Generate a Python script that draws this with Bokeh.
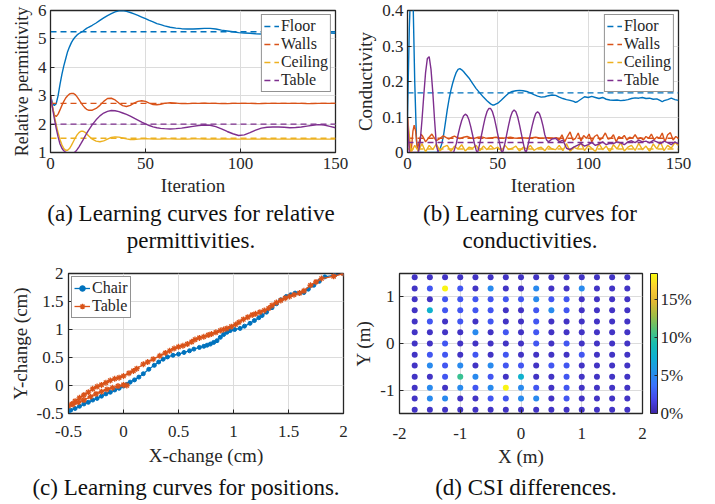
import numpy as np
from bokeh.plotting import figure
from bokeh.layouts import column, row
from bokeh.models import (Div, FixedTicker, CustomJSTickFormatter, Legend, LegendItem,
                          LinearColorMapper, ColorBar, ColumnDataSource, Range1d, LinearAxis)
from bokeh.embed import file_html
from bokeh.resources import INLINE

# ---------------- data ----------------
iter_a = list(range(0, 21)) + list(range(22, 61, 2)) + list(range(63, 151, 3))
eps_floor = [3.0, 2.75, 2.65, 2.72, 3.0, 3.4, 3.75, 4.05, 4.3, 4.55, 4.72, 4.87, 4.98, 5.07, 5.14, 5.19, 5.23, 5.27, 5.32, 5.37, 5.41,
             5.48, 5.56, 5.65, 5.74, 5.82, 5.89, 5.95, 5.99, 6.0, 5.97, 5.93, 5.88, 5.83, 5.77, 5.71, 5.65, 5.6, 5.54, 5.5, 5.46,
             5.41, 5.38, 5.36, 5.35, 5.35, 5.36, 5.37, 5.37, 5.35, 5.31, 5.28, 5.25, 5.22, 5.21, 5.2, 5.18, 5.17, 5.16, 5.17, 5.19,
             5.2, 5.21, 5.22, 5.22, 5.22, 5.22, 5.21, 5.21, 5.21, 5.2]
eps_walls = [3.0, 2.6, 2.32, 2.27, 2.35, 2.5, 2.66, 2.8, 2.92, 3.0, 3.06, 3.08, 3.08, 3.04, 2.96, 2.86, 2.76, 2.66, 2.58, 2.52, 2.49,
             2.49, 2.55, 2.66, 2.8, 2.9, 2.91, 2.85, 2.74, 2.65, 2.62, 2.66, 2.74, 2.8, 2.82, 2.8, 2.74, 2.69, 2.68, 2.7, 2.73,
             2.75, 2.74, 2.72, 2.72, 2.73, 2.73, 2.74, 2.73, 2.73, 2.72, 2.72, 2.73, 2.73, 2.73, 2.73, 2.72, 2.72, 2.73, 2.73, 2.73,
             2.73, 2.73, 2.73, 2.73, 2.72, 2.72, 2.73, 2.73, 2.73, 2.73]
eps_ceiling = [3.0, 2.65, 2.3, 1.98, 1.7, 1.46, 1.27, 1.14, 1.08, 1.08, 1.14, 1.25, 1.38, 1.51, 1.62, 1.7, 1.75, 1.75, 1.72, 1.66, 1.59,
               1.47, 1.4, 1.38, 1.41, 1.47, 1.53, 1.55, 1.54, 1.51, 1.48, 1.46, 1.46, 1.47, 1.48, 1.49, 1.48, 1.47, 1.47, 1.47, 1.48,
               1.48, 1.47, 1.47, 1.47, 1.48, 1.48, 1.47, 1.47, 1.47, 1.47, 1.48, 1.47, 1.47, 1.47, 1.47, 1.47, 1.47, 1.48, 1.47, 1.47,
               1.47, 1.47, 1.47, 1.47, 1.48, 1.47, 1.47, 1.47, 1.47, 1.47]
eps_table = [3.0, 2.6, 2.2, 1.85, 1.55, 1.3, 1.15, 1.06, 1.01, 0.98, 0.97, 0.97, 0.98, 1.02, 1.1, 1.2, 1.31, 1.43, 1.55, 1.67, 1.78,
             1.98, 2.15, 2.29, 2.39, 2.45, 2.48, 2.47, 2.44, 2.39, 2.34, 2.28, 2.21, 2.14, 2.07, 2.01, 1.95, 1.9, 1.87, 1.85, 1.84,
             1.83, 1.84, 1.86, 1.89, 1.92, 1.95, 1.97, 1.96, 1.91, 1.83, 1.74, 1.66, 1.6, 1.62, 1.7, 1.79, 1.86, 1.89, 1.9, 1.9,
             1.89, 1.87, 1.88, 1.9, 1.93, 1.96, 1.98, 1.97, 1.92, 1.87]
eps_true = [5.25, 2.73, 1.5, 2.0]

sig_floor = [(0, 0.10), (1, 0.35), (2, 0.5), (3, 0.45), (4, 0.2), (5, 0.03), (6, 0.0), (10, 0.0), (16, 0.0), (17, 0.003),
             (18, 0.01), (19, 0.025), (20, 0.05), (21, 0.085), (22, 0.12), (23, 0.15), (24, 0.175), (25, 0.195), (26, 0.212),
             (27, 0.226), (28, 0.234), (29, 0.236), (30, 0.233), (31, 0.228), (32, 0.222), (34, 0.21), (36, 0.195), (38, 0.18),
             (40, 0.168), (42, 0.156), (44, 0.146), (46, 0.137), (47, 0.134), (48, 0.134), (50, 0.139), (52, 0.148), (54, 0.158),
             (56, 0.167), (58, 0.172), (60, 0.174), (62, 0.175), (64, 0.174), (66, 0.172), (68, 0.168), (70, 0.163), (72, 0.159),
             (74, 0.156), (76, 0.157), (78, 0.16), (80, 0.162), (82, 0.161), (84, 0.156), (86, 0.152), (88, 0.149), (90, 0.147),
             (92, 0.144), (93, 0.141), (94, 0.143), (96, 0.15), (98, 0.157), (100, 0.155), (102, 0.158), (104, 0.155), (106, 0.152),
             (108, 0.155), (110, 0.15), (112, 0.148), (114, 0.147), (116, 0.148), (118, 0.146), (120, 0.147), (122, 0.149),
             (124, 0.152), (126, 0.154), (128, 0.153), (130, 0.155), (132, 0.152), (134, 0.153), (136, 0.15), (138, 0.151),
             (140, 0.146), (141, 0.143), (142, 0.146), (144, 0.149), (146, 0.153), (148, 0.149), (150, 0.147)]
sig_walls_early = [(0, 0.1), (1, 0.02), (2, 0.0), (3, 0.06), (3.7, 0.077), (4.5, 0.06), (5.5, 0.01), (6.5, 0.03), (7.5, 0.052),
                   (8.5, 0.045), (10, 0.03), (11.5, 0.04), (13.5, 0.052), (15, 0.04), (16, 0.033), (18, 0.04), (19.8, 0.047),
                   (21.5, 0.042), (23, 0.038), (24.5, 0.043), (26, 0.046), (27.5, 0.042), (29, 0.039), (31, 0.043), (33, 0.045),
                   (35, 0.041), (37, 0.04), (39, 0.043), (41, 0.044), (43, 0.041), (45, 0.04), (47, 0.042), (49, 0.043),
                   (51, 0.041), (53, 0.04), (55, 0.042), (57, 0.043), (59, 0.041), (61, 0.04), (63, 0.042), (65, 0.041),
                   (67, 0.04), (69, 0.042), (71, 0.043), (73, 0.041), (75, 0.04), (77, 0.042), (79, 0.041), (81, 0.04), (82.5, 0.042)]
sig_walls_late = [0.035, 0.05, 0.03, 0.045, 0.058, 0.035, 0.04, 0.055, 0.032, 0.048, 0.04, 0.052, 0.03, 0.045, 0.05,
                  0.035, 0.042, 0.055, 0.038, 0.04, 0.05, 0.03, 0.045, 0.04, 0.048, 0.035, 0.043, 0.04, 0.05, 0.038,
                  0.042, 0.035, 0.045, 0.04, 0.052, 0.036, 0.044, 0.04, 0.055, 0.03, 0.05, 0.056, 0.035, 0.045, 0.04]
sig_ceiling = [0.1, 0.0, 0.02, 0.004, 0.025, 0.002, 0.02, 0.008, 0.024, 0.004, 0.016, 0.02, 0.003, 0.018, 0.01, 0.022,
               0.004, 0.015, 0.012, 0.02, 0.005, 0.018, 0.008, 0.02, 0.01, 0.015, 0.005, 0.02, 0.008, 0.012, 0.018, 0.004,
               0.015, 0.01, 0.02, 0.006, 0.012, 0.015, 0.005, 0.018, 0.01, 0.008, 0.02, 0.005, 0.025, 0.003, 0.015, 0.01,
               0.028, 0.005, 0.02, 0.012, 0.003, 0.025, 0.008, 0.018, 0.002, 0.022, 0.01, 0.028, 0.004, 0.015, 0.02, 0.006,
               0.026, 0.008, 0.018, 0.003, 0.024, 0.01, 0.03, 0.005, 0.02, 0.012, 0.028, 0.02]
sig_table_early = [(0, 0.1), (1, 0.0), (6, 0.0), (7, 0.03), (8, 0.09), (9, 0.16), (10, 0.225), (11, 0.265), (12, 0.27),
                   (13, 0.235), (14, 0.17), (15, 0.09), (16, 0.02), (17, 0.0), (25.5, 0.0), (26, 0.008), (27, 0.025),
                   (28, 0.05), (29, 0.072), (30, 0.09), (31, 0.103), (32, 0.108), (33, 0.104), (34, 0.092), (35, 0.073),
                   (36, 0.05), (37, 0.026), (38, 0.007), (38.5, 0.0), (39, 0.004), (40, 0.025), (41, 0.05), (42, 0.075),
                   (43, 0.098), (44, 0.115), (45, 0.124), (46, 0.124), (47, 0.115), (48, 0.098), (49, 0.075), (50, 0.05),
                   (51, 0.025), (52, 0.004), (52.5, 0.0), (53, 0.006), (54, 0.028), (55, 0.053), (56, 0.078), (57, 0.1),
                   (58, 0.114), (59, 0.12), (60, 0.115), (61, 0.1), (62, 0.078), (63, 0.053), (64, 0.028), (65, 0.006),
                   (65.5, 0.0), (66, 0.006), (67, 0.028), (68, 0.052), (69, 0.075), (70, 0.095), (71, 0.11), (72, 0.115),
                   (73, 0.11), (74, 0.095), (75, 0.075), (76, 0.05), (77, 0.035), (78, 0.03)]
sig_table_late = [0.038, 0.04, 0.03, 0.035, 0.012, 0.008, 0.015, 0.02, 0.025, 0.018, 0.022, 0.028, 0.02, 0.024, 0.03, 0.022,
                  0.026, 0.025, 0.03, 0.027, 0.022, 0.03, 0.033, 0.028, 0.035, 0.03, 0.032, 0.027, 0.034, 0.03, 0.025, 0.032,
                  0.028, 0.022, 0.03, 0.024]
sig_true = [0.168, 0.04, 0.01, 0.028]

chair_x = [2.0, 1.92, 1.83, 1.78, 1.73, 1.68, 1.64, 1.6, 1.56, 1.52, 1.48, 1.43, 1.39, 1.35, 1.30, 1.26, 1.23, 1.19, 1.15, 1.1,
           1.06, 1.01, 0.97, 0.94, 0.91, 0.88, 0.85, 0.82, 0.79, 0.76, 0.73, 0.69, 0.64, 0.6, 0.55, 0.5, 0.45, 0.4, 0.36, 0.32,
           0.28, 0.23, 0.18, 0.14, 0.1, 0.06, 0.03, 0.0, -0.04, -0.08, -0.12, -0.16, -0.2, -0.24, -0.28, -0.32, -0.36, -0.4,
           -0.44, -0.48, -0.5]
chair_y = [2.0, 1.97, 1.94, 1.86, 1.79, 1.72, 1.66, 1.65, 1.65, 1.62, 1.59, 1.53, 1.46, 1.39, 1.31, 1.25, 1.21, 1.16, 1.11, 1.06,
           1.02, 1.0, 0.98, 0.95, 0.91, 0.86, 0.80, 0.77, 0.74, 0.72, 0.70, 0.68, 0.65, 0.62, 0.59, 0.56, 0.54, 0.51, 0.47, 0.42,
           0.36, 0.29, 0.21, 0.15, 0.1, 0.06, 0.02, -0.01, -0.05, -0.08, -0.12, -0.15, -0.19, -0.23, -0.26, -0.3, -0.33, -0.37,
           -0.41, -0.44, -0.46]
table_x = [2.0, 1.91, 1.8, 1.75, 1.70, 1.64, 1.6, 1.55, 1.51, 1.47, 1.43, 1.39, 1.35, 1.32, 1.28, 1.24, 1.2, 1.17, 1.13, 1.09,
           1.05, 1.02, 0.98, 0.94, 0.91, 0.88, 0.84, 0.80, 0.77, 0.73, 0.69, 0.65, 0.62, 0.58, 0.54, 0.5, 0.46, 0.42, 0.38, 0.33,
           0.27, 0.22, 0.18, 0.12, 0.09, 0.05, 0.0, -0.04, -0.08, -0.12, -0.16, -0.2, -0.24, -0.28, -0.32, -0.36, -0.4, -0.44,
           -0.47, -0.5, -0.46, -0.41, -0.36, -0.3, -0.25, -0.2, -0.15, -0.1, -0.05, 0.0, 0.03]
table_y = [2.0, 1.95, 1.91, 1.85, 1.79, 1.69, 1.65, 1.62, 1.59, 1.56, 1.52, 1.48, 1.43, 1.38, 1.34, 1.31, 1.28, 1.26, 1.22, 1.18,
           1.13, 1.09, 1.05, 1.02, 1.0, 0.98, 0.95, 0.92, 0.9, 0.87, 0.85, 0.82, 0.78, 0.74, 0.71, 0.69, 0.66, 0.62, 0.58, 0.53,
           0.47, 0.42, 0.38, 0.3, 0.26, 0.22, 0.17, 0.14, 0.12, 0.09, 0.05, 0.01, -0.02, -0.06, -0.12, -0.17, -0.22, -0.28,
           -0.33, -0.37, -0.34, -0.3, -0.26, -0.2, -0.15, -0.11, -0.07, -0.04, -0.01, 0.01, 0.0]

grid_x = [-1.75, -1.5, -1.25, -1.0, -0.75, -0.5, -0.25, 0.0, 0.25, 0.5, 0.75, 1.0, 1.25, 1.5, 1.75]
grid_y = [1.42, 1.18, 0.95, 0.71, 0.47, 0.24, 0.0, -0.24, -0.47, -0.71, -0.95, -1.18, -1.42]
csi_diff = [
    [0.8, 0.8, 0.8, 0.8, 0.8, 0.8, 0.8, 0.8, 0.8, 0.8, 0.8, 0.8, 0.8, 0.8, 0.8],
    [0.8, 2.6, 18.2, 2.6, 0.8, 5.0, 0.8, 0.8, 5.0, 0.8, 0.8, 5.0, 0.8, 0.8, 0.8],
    [0.8, 0.8, 2.6, 2.6, 2.6, 2.6, 2.6, 2.6, 5.0, 2.6, 2.6, 0.8, 0.8, 0.8, 0.8],
    [0.8, 7.6, 2.6, 2.6, 2.6, 2.6, 0.8, 0.8, 2.6, 5.0, 2.6, 0.8, 0.8, 0.8, 0.8],
    [0.8, 2.6, 0.8, 2.6, 0.8, 2.6, 0.8, 0.8, 2.6, 0.8, 0.8, 0.8, 0.8, 0.8, 0.8],
    [0.8, 0.8, 0.8, 0.8, 5.0, 0.8, 2.6, 0.8, 2.6, 0.8, 0.8, 0.8, 0.8, 0.8, 0.8],
    [0.8, 0.8, 2.6, 0.8, 0.8, 0.8, 0.8, 0.8, 2.6, 0.8, 2.6, 0.8, 0.8, 0.8, 0.8],
    [0.8, 2.6, 2.6, 0.8, 2.6, 0.8, 2.6, 0.8, 0.8, 0.8, 0.8, 2.6, 0.8, 0.8, 0.8],
    [0.8, 5.0, 2.6, 5.0, 0.8, 5.0, 2.6, 2.6, 0.8, 2.6, 2.6, 0.8, 0.8, 0.8, 0.8],
    [0.8, 0.8, 2.6, 10.2, 5.0, 2.6, 0.8, 7.6, 0.8, 0.8, 2.6, 0.8, 0.8, 0.8, 0.8],
    [0.8, 5.0, 0.8, 5.0, 2.6, 5.0, 18.2, 5.0, 2.6, 0.8, 2.6, 0.8, 0.8, 0.8, 0.8],
    [0.8, 5.0, 5.0, 0.8, 0.8, 2.6, 2.6, 5.0, 5.0, 0.8, 2.6, 0.8, 0.8, 0.8, 0.8],
    [0.8, 0.8, 0.8, 0.8, 0.8, 0.8, 0.8, 0.8, 0.8, 0.8, 0.8, 0.8, 0.8, 0.8, 0.8],
]
csi_max = 18.5
names = ["Floor", "Walls", "Ceiling", "Table"]

# ---------------- style ----------------
FONT = "Liberation Serif"
INK = "#262626"
COLORS = ["#0072BD", "#D95319", "#EDB120", "#7E2F8E"]
LW = 1.4

stops = [(0.0, (62, 38, 168)), (0.1, (71, 70, 235)), (0.2, (58, 114, 252)), (0.3, (34, 148, 232)),
         (0.4, (14, 175, 210)), (0.5, (25, 190, 175)), (0.6, (85, 195, 120)), (0.7, (160, 190, 70)),
         (0.8, (225, 185, 50)), (0.9, (250, 205, 50)), (1.0, (249, 251, 14))]
sp = np.array([s[0] for s in stops])
sc = np.array([s[1] for s in stops], dtype=float)
tt = np.linspace(0, 1, 256)
PARULA = ["#%02x%02x%02x" % tuple(int(round(np.interp(t, sp, sc[:, k]))) for k in range(3)) for t in tt]


def fmt():
    return CustomJSTickFormatter(code="return String(Math.round(tick*1000)/1000);")


def style(p, xt, yt, xlabel, ylabel, xstand=5, xlstand=3, ystand=4, lab_size="19px"):
    p.xaxis.ticker = FixedTicker(ticks=xt)
    p.yaxis.ticker = FixedTicker(ticks=yt)
    p.xaxis.formatter = fmt()
    p.yaxis.formatter = fmt()
    p.xaxis.axis_label = xlabel
    p.yaxis.axis_label = ylabel
    for ax in p.axis:
        ax.major_label_text_font = FONT
        ax.major_label_text_font_size = "17px"
        ax.major_label_text_color = INK
        ax.axis_label_text_font = FONT
        ax.axis_label_text_font_size = lab_size
        ax.axis_label_text_font_style = "normal"
        ax.axis_label_text_color = INK
        ax.major_tick_in = 4
        ax.major_tick_out = 0
        ax.minor_tick_line_color = None
        ax.axis_line_color = INK
        ax.major_tick_line_color = INK
    p.xaxis.major_label_standoff = xstand
    p.xaxis.axis_label_standoff = xlstand
    p.yaxis.major_label_standoff = ystand
    p.yaxis.axis_label_standoff = 3
    p.grid.grid_line_color = "#dcdcdc"
    p.grid.grid_line_width = 1
    p.outline_line_color = INK
    p.outline_line_width = 1.3
    p.outline_line_alpha = 1
    p.background_fill_color = "white"
    p.border_fill_color = "white"


def legend_style(leg):
    leg.label_text_font = FONT
    leg.label_text_font_size = "16px"
    leg.label_text_color = INK
    leg.glyph_width = 15
    leg.glyph_height = 14
    leg.label_height = 14
    leg.label_standoff = 2
    leg.spacing = 0
    leg.padding = 2
    leg.margin = 4
    leg.border_line_color = INK
    leg.border_line_width = 1
    leg.background_fill_alpha = 1


def mk(w, h, xr, yr, l, r, t, b):
    return figure(width=w, height=h, x_range=Range1d(*xr), y_range=Range1d(*yr),
                  output_backend="svg", toolbar_location=None,
                  min_border_left=l, min_border_right=r, min_border_top=t, min_border_bottom=b)


# ---------------- (a) ----------------
fa = mk(352, 200, (0, 150), (1, 6), 50, 17, 10, 48)
style(fa, [0, 50, 100, 150], [1, 2, 3, 4, 5, 6], "Iteration", "Relative permittivity",
      xstand=5, xlstand=3, ystand=4, lab_size="18px")
fa.xaxis.axis_label_text_font_size = "19px"
items = []
for name, ys, c, tv in zip(names, [eps_floor, eps_walls, eps_ceiling, eps_table], COLORS, eps_true):
    fa.line(iter_a, ys, line_color=c, line_width=LW)
    r = fa.line([0, 150], [tv, tv], line_color=c, line_width=LW, line_dash="6 4")
    items.append(LegendItem(label=name, renderers=[r]))
leg_a = Legend(items=items, location="top_right")
legend_style(leg_a)
fa.add_layout(leg_a)

# ---------------- (b) ----------------
fb = mk(363, 200, (0, 150), (0, 0.4), 54, 37, 10, 48)
style(fb, [0, 50, 100, 150], [0, 0.1, 0.2, 0.3, 0.4], "Iteration", "Conductivity",
      xstand=5, xlstand=3, ystand=4)
fx, fy = zip(*sig_floor)
we_x, we_y = zip(*sig_walls_early)
w_x = list(we_x) + list(84 + 1.5 * np.arange(len(sig_walls_late)))
w_y = list(we_y) + sig_walls_late
c_x = list(2 * np.arange(len(sig_ceiling)))
te_x, te_y = zip(*sig_table_early)
t_x = list(te_x) + list(80 + 2 * np.arange(len(sig_table_late)))
t_y = list(te_y) + sig_table_late
items = []
for name, xs, ys, c, tv in zip(names, [fx, w_x, c_x, t_x], [fy, w_y, sig_ceiling, t_y], COLORS, sig_true):
    fb.line(list(xs), list(ys), line_color=c, line_width=LW)
    r = fb.line([0, 150], [tv, tv], line_color=c, line_width=LW, line_dash="6 4")
    items.append(LegendItem(label=name, renderers=[r]))
leg_b = Legend(items=items, location="top_right")
legend_style(leg_b)
fb.add_layout(leg_b)

# ---------------- (c) ----------------
fc = mk(350, 217, (-0.5, 2), (-0.5, 2), 68, 7, 18, 59)
ticks_c = [-0.5, 0, 0.5, 1, 1.5, 2]
style(fc, ticks_c, ticks_c, "X-change (cm)", "Y-change (cm)", xstand=12, xlstand=5, ystand=5)
l1 = fc.line(chair_x, chair_y, line_color=COLORS[0], line_width=1.3)
s1 = fc.scatter(chair_x, chair_y, marker="circle", size=4, color=COLORS[0])
l2 = fc.line(table_x, table_y, line_color=COLORS[1], line_width=1.3)
s2 = fc.scatter(table_x, table_y, marker="asterisk", size=6, line_color=COLORS[1], line_width=1.3)
leg_c = Legend(items=[LegendItem(label="Chair", renderers=[l1, s1]),
                      LegendItem(label="Table", renderers=[l2, s2])], location="top_left")
legend_style(leg_c)
leg_c.glyph_width = 16
leg_c.margin = 3
fc.add_layout(leg_c)

# ---------------- (d) ----------------
fd = mk(365, 217, (-2, 2), (-1.5, 1.5), 48, 73, 15, 54)
style(fd, [-2, -1, 0, 1, 2], [-1, 0, 1], "X (m)", "Y (m)", xstand=14, xlstand=4, ystand=5)
px, py, pv = [], [], []
for yi, rowv in zip(grid_y, csi_diff):
    for xi, v in zip(grid_x, rowv):
        px.append(xi)
        py.append(yi)
        pv.append(v)
mapper = LinearColorMapper(palette=PARULA, low=0, high=csi_max)
src = ColumnDataSource(dict(x=px, y=py, v=pv))
fd.scatter("x", "y", source=src, size=6, line_color=None,
           fill_color={"field": "v", "transform": mapper})
# an empty right-hand axis only to leave a gap between the frame and the colour bar
gap_axis = LinearAxis(ticker=FixedTicker(ticks=[0]), major_tick_out=8, major_tick_in=0,
                      major_tick_line_color=None, major_label_text_font_size="1px",
                      major_label_text_color=None, major_label_standoff=0,
                      axis_line_color=None, minor_tick_line_color=None)
fd.add_layout(gap_axis, "right")
cb = ColorBar(color_mapper=mapper, ticker=FixedTicker(ticks=[0, 5, 10, 15]),
              formatter=CustomJSTickFormatter(code="return tick + '%';"),
              width=7, padding=0, margin=0, label_standoff=3,
              background_fill_alpha=0, border_line_color=None,
              major_label_text_font=FONT, major_label_text_font_size="17px",
              major_label_text_color=INK, major_tick_line_color=INK,
              major_tick_in=3, major_tick_out=0, bar_line_color=INK,
              minor_tick_line_color=None)
fd.add_layout(cb, "right")

# ---------------- captions ----------------
CAP = "font-family:'Liberation Serif';font-size:23px;line-height:27px;color:#111;"
cap1 = Div(width=715, height=55, margin=0, text=(
    '<div style="position:relative;width:715px;height:55px;%s">'
    '<div style="position:absolute;left:0px;top:0px;width:382px;text-align:center">'
    '(a) Learning curves for relative<br>permittivities.</div>'
    '<div style="position:absolute;left:357px;top:0px;width:346px;text-align:center">'
    '(b) Learning curves for<br>conductivities.</div></div>') % CAP)
cap2 = Div(width=715, height=32, margin=0, text=(
    '<div style="position:relative;width:715px;height:32px;%s">'
    '<div style="position:absolute;left:0px;top:2px;width:372px;text-align:center">'
    '(c) Learning curves for positions.</div>'
    '<div style="position:absolute;left:357px;top:2px;width:338px;text-align:center">'
    '(d) CSI differences.</div></div>') % CAP)

page = column(row(fa, fb), cap1, row(fc, fd), cap2)
open("out.html", "w").write(file_html(page, INLINE))
